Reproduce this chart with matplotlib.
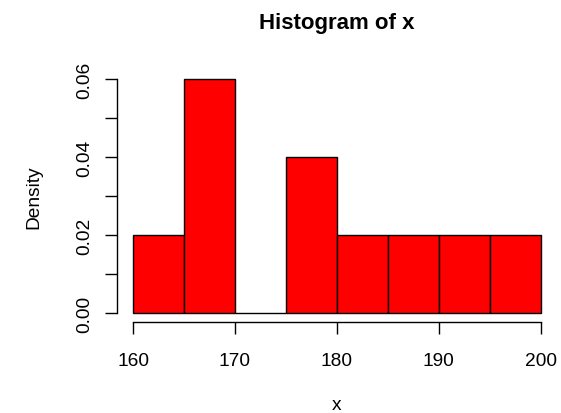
import matplotlib
matplotlib.use("Agg")
import matplotlib.pyplot as plt
import numpy as np

breaks = [160, 165, 170, 175, 180, 185, 190, 195, 200]
density = [0.02, 0.06, 0.00, 0.04, 0.02, 0.02, 0.02, 0.02]
xticks = [160, 170, 180, 190, 200]
yticks = [0.00, 0.01, 0.02, 0.03, 0.04, 0.05, 0.06]
ylabels = ["0.00", "", "0.02", "", "0.04", "", "0.06"]

plt.rcParams['font.family'] = ['Liberation Sans', 'DejaVu Sans']

fig = plt.figure(figsize=(5.61, 4.14), dpi=100)
W, H = 561, 414
l, r, t, b = 116.7, 557.0, 70.6, 323.4
ax = fig.add_axes([l / W, 1 - b / H, (r - l) / W, (b - t) / H])

lefts = np.array(breaks[:-1])
widths = np.diff(breaks)
ax.bar(lefts, density, width=widths, align='edge', color='#FF0000',
       edgecolor='black', linewidth=1.0)

ax.set_xlim(158.4, 201.6)
ax.set_ylim(-0.0024, 0.0624)

for s in ['top', 'right']:
    ax.spines[s].set_visible(False)
ax.spines['left'].set_bounds(0, 0.06)
ax.spines['bottom'].set_bounds(160, 200)
for s in ['left', 'bottom']:
    ax.spines[s].set_linewidth(1.0)

ax.set_xticks(xticks)
ax.set_xticklabels([str(v) for v in xticks])
ax.set_yticks(yticks)
ax.set_yticklabels(ylabels, rotation=90, va='center')
ax.tick_params(axis='both', length=8.5, width=1.0, labelsize=13.8)
ax.tick_params(axis='x', pad=13)
ax.tick_params(axis='y', pad=8.5)

ax.set_xlabel('x', fontsize=13.8, labelpad=19)
ax.set_ylabel('Density', fontsize=13.8, labelpad=24)
fig.text(337 / W, 1 - 23 / H, 'Histogram of x', ha='center', va='center',
         fontsize=16, fontweight='bold')

fig.savefig('out.png', dpi=100)
